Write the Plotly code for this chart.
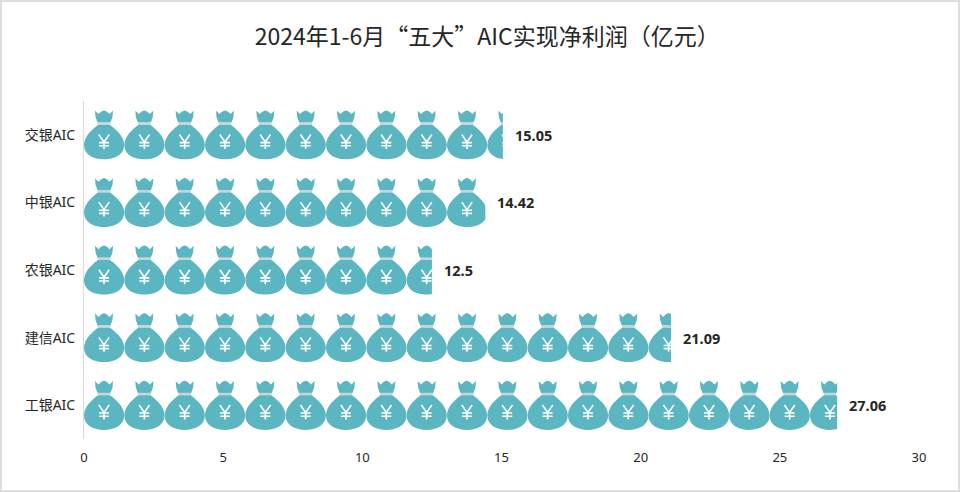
import base64
import plotly.graph_objects as go

categories = ["工银AIC", "建信AIC", "农银AIC", "中银AIC", "交银AIC"]
profits = [27.06, 21.09, 12.5, 14.42, 15.05]
value_labels = ["27.06", "21.09", "12.5", "14.42", "15.05"]
x_ticks = [0, 5, 10, 15, 20, 25, 30]

TEAL = "#5BB6C2"
BAND = "#C9D4D8"
BAG_W_UNITS = 1.449   # width of one bag, in axis units
BAR_FRACTION = 0.73   # bar thickness as a share of the category band
TILE_W, TILE_H = 40.33, 49.5

BAG = f'''
<g>
<path fill="{TEAL}" d="M11 0.5 L14.5 4 L17 1.5 L20 0 L23 1.5 L25.5 4 L29 0.5 L28.5 7 L26.5 12.5 L13.5 12.5 L11.5 7 Z"/>
<rect x="13.8" y="12.3" width="12.4" height="2.6" fill="{BAND}"/>
<path fill="{TEAL}" d="M14 14.8 L26 14.8 C30 18 40.2 25 40.2 35 C40.2 45 30 49.5 20 49.5 C10 49.5 0 45 0 35 C0 25 10 18 14 14.8 Z"/>
<path fill="none" stroke="#FFFFFF" stroke-width="1.6" d="M14.8 24.5 L20 32 L25.2 24.5 M20 32 L20 39 M15 32.6 L25 32.6 M15 35.8 L25 35.8"/>
</g>'''


def bag_row(value):
    """An SVG strip of bags cut off exactly at the width of the value."""
    count = int(value / BAG_W_UNITS) + 1
    width = value / BAG_W_UNITS * TILE_W
    uses = "".join(f'<use href="#b" x="{i * TILE_W:.2f}"/>' for i in range(count))
    svg = (
        f'<svg xmlns="http://www.w3.org/2000/svg" width="{width:.2f}" height="{TILE_H}" '
        f'viewBox="0 0 {width:.2f} {TILE_H}" preserveAspectRatio="none">'
        f'<defs><g id="b">{BAG}</g></defs>{uses}</svg>'
    )
    return "data:image/svg+xml;base64," + base64.b64encode(svg.encode()).decode()


fig = go.Figure(
    go.Bar(
        x=profits,
        y=categories,
        orientation="h",
        width=BAR_FRACTION,
        marker=dict(color="rgba(0,0,0,0)", line=dict(width=0)),
        hovertemplate="%{y}: %{x}<extra></extra>",
    )
)

images = []
annotations = []
for i, (v, label) in enumerate(zip(profits, value_labels)):
    images.append(
        dict(
            source=bag_row(v), xref="x", yref="y", x=0, y=i + BAR_FRACTION / 2,
            sizex=v, sizey=BAR_FRACTION, sizing="stretch",
            xanchor="left", yanchor="top", layer="above",
        )
    )
    annotations.append(
        dict(
            x=v, y=categories[i], xref="x", yref="y", text=f"<b>{label}</b>",
            showarrow=False, xanchor="left", xshift=10, yshift=0,
            font=dict(family="Noto Sans, Open Sans, sans-serif", size=14.5, color="#262626"),
        )
    )

fig.update_layout(
    width=960,
    height=492,
    autosize=False,
    margin=dict(l=84, r=41, t=101, b=53),
    paper_bgcolor="#FFFFFF",
    plot_bgcolor="#FFFFFF",
    showlegend=False,
    title=dict(
        text="2024年1-6月“五大”AIC实现净利润（亿元）",
        x=0.5075, xanchor="center", y=0.925, yanchor="middle",
        font=dict(family="Noto Sans CJK SC, sans-serif", size=23, color="#262626"),
    ),
    xaxis=dict(
        range=[0, 30], tickvals=x_ticks, showgrid=False, zeroline=False, showline=False,
        ticks="", ticklabelstandoff=9,
        tickfont=dict(family="Noto Sans, sans-serif", size=13, color="#262626"),
    ),
    yaxis=dict(
        type="category", categoryorder="array", categoryarray=categories,
        range=[-0.5, 4.5], showgrid=False, zeroline=False, showline=True, linecolor="#D9D9D9",
        linewidth=1, ticks="", ticklabelstandoff=5,
        tickfont=dict(family="Noto Sans, Noto Sans CJK SC, sans-serif", size=14, color="#262626"),
    ),
    images=images,
    annotations=annotations,
    shapes=[
        dict(type="rect", xref="paper", yref="paper", x0=-0.0994, x1=1.0479, y0=-0.1538, y1=1.2959,
             line=dict(color="#DEDEDE", width=2), fillcolor="rgba(0,0,0,0)"),
    ],
)

fig.write_html(
    "out.html",
    config={"displayModeBar": False},
    post_script="document.body.style.margin='0';",
)
